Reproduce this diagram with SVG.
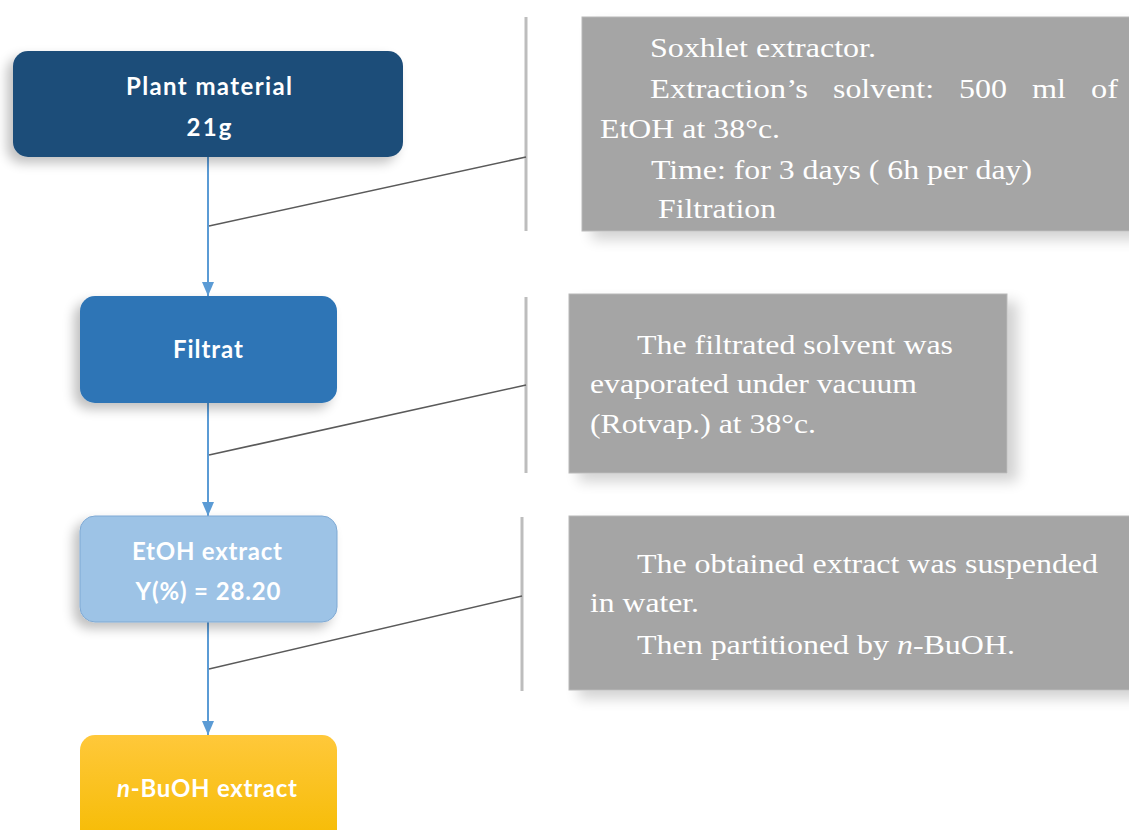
<svg xmlns="http://www.w3.org/2000/svg" width="1129" height="830" viewBox="0 0 1129 830">
<style>
.node text{font-family:Lato,"Liberation Sans",sans-serif;font-weight:bold;font-size:24px;fill:#ffffff;text-anchor:middle}
.note text{font-family:"Liberation Serif","DejaVu Serif",serif;font-size:28px;fill:#ffffff}
.note rect{fill:#a5a5a5;stroke:#b8b8b8;stroke-width:1}
.flow{stroke:#5b9bd5;stroke-width:2;fill:none}
.diag{stroke:#5a5a5a;stroke-width:1.6;fill:none}
.brace{stroke:#bdbdbd;stroke-width:3;fill:none}
</style>
<defs>
<marker id="arr" viewBox="0 0 14 12" refX="14" refY="6" markerWidth="14" markerHeight="12" markerUnits="userSpaceOnUse" orient="auto">
<path d="M0,0 L14,6 L0,12 Z" fill="#5b9bd5"/>
</marker>
<filter id="sh" x="-20%" y="-20%" width="140%" height="150%">
<feGaussianBlur in="SourceAlpha" stdDeviation="6"/>
<feOffset dx="-6" dy="6"/>
<feComponentTransfer><feFuncA type="linear" slope="0.25"/></feComponentTransfer>
<feMerge><feMergeNode/><feMergeNode in="SourceGraphic"/></feMerge>
</filter>
<filter id="sh2" x="-10%" y="-20%" width="130%" height="150%">
<feGaussianBlur in="SourceAlpha" stdDeviation="7"/>
<feOffset dx="10" dy="8"/>
<feComponentTransfer><feFuncA type="linear" slope="0.18"/></feComponentTransfer>
<feMerge><feMergeNode/><feMergeNode in="SourceGraphic"/></feMerge>
</filter>
<linearGradient id="gold" x1="0" y1="0" x2="0" y2="1">
<stop offset="0" stop-color="#ffc83a"/>
<stop offset="1" stop-color="#f5bb00"/>
</linearGradient>
</defs>
<rect width="1129" height="830" fill="#ffffff"/>

<g id="connectors">
<line class="flow" x1="208" y1="157" x2="208" y2="296" marker-end="url(#arr)"/>
<line class="flow" x1="208" y1="403" x2="208" y2="516" marker-end="url(#arr)"/>
<line class="flow" x1="208" y1="622" x2="208" y2="735" marker-end="url(#arr)"/>
<line class="brace" x1="526" y1="17" x2="526" y2="231"/>
<line class="brace" x1="526" y1="297" x2="526" y2="473"/>
<line class="brace" x1="522" y1="517" x2="522" y2="691"/>
<line class="diag" x1="209" y1="226" x2="526" y2="157"/>
<line class="diag" x1="209" y1="455" x2="526" y2="385"/>
<line class="diag" x1="209" y1="669" x2="522" y2="596"/>
</g>

<g id="plant-material" class="node">
<rect x="13" y="51" width="390" height="106" rx="15" fill="#1f4e79" filter="url(#sh)"/>
<text x="209" y="95" textLength="166" lengthAdjust="spacing">Plant material</text>
<text x="209" y="136" textLength="45" lengthAdjust="spacing">21g</text>
</g>

<g id="filtrat" class="node">
<rect x="80" y="296" width="257" height="107" rx="15" fill="#2e75b6" filter="url(#sh)"/>
<text x="208" y="358" textLength="70" lengthAdjust="spacing">Filtrat</text>
</g>

<g id="etoh-extract" class="node">
<rect x="80" y="516" width="257" height="106" rx="15" fill="#9dc3e6" stroke="#7fa9d3" stroke-width="1" filter="url(#sh)"/>
<text x="207" y="560" textLength="150" lengthAdjust="spacing">EtOH extract</text>
<text x="208" y="600" textLength="145" lengthAdjust="spacing">Y(%) = 28.20</text>
</g>

<g id="buoh-extract" class="node">
<rect x="80" y="735" width="257" height="115" rx="15" fill="url(#gold)"/>
<text x="207" y="797" textLength="180" lengthAdjust="spacing"><tspan font-style="italic">n</tspan>-BuOH extract</text>
</g>

<g id="note-extraction" class="note">
<rect x="582" y="17" width="560" height="214" filter="url(#sh2)"/>
<text x="650" y="57" textLength="226" lengthAdjust="spacingAndGlyphs">Soxhlet extractor.</text>
<text x="650" y="98" textLength="158" lengthAdjust="spacingAndGlyphs">Extraction’s</text>
<text x="833" y="98" textLength="101" lengthAdjust="spacingAndGlyphs">solvent:</text>
<text x="959" y="98" textLength="48" lengthAdjust="spacingAndGlyphs">500</text>
<text x="1032" y="98" textLength="34" lengthAdjust="spacingAndGlyphs">ml</text>
<text x="1091" y="98" textLength="27" lengthAdjust="spacingAndGlyphs">of</text>
<text x="600" y="138" textLength="180" lengthAdjust="spacingAndGlyphs">EtOH at 38°c.</text>
<text x="651" y="179" textLength="381" lengthAdjust="spacingAndGlyphs">Time: for 3 days ( 6h per day)</text>
<text x="658" y="218" textLength="118" lengthAdjust="spacingAndGlyphs">Filtration</text>
</g>

<g id="note-evaporation" class="note">
<rect x="569" y="294" width="438" height="179" filter="url(#sh2)"/>
<text x="637" y="354" textLength="316" lengthAdjust="spacingAndGlyphs">The filtrated solvent was</text>
<text x="590" y="393" textLength="327" lengthAdjust="spacingAndGlyphs">evaporated under vacuum</text>
<text x="590" y="433" textLength="226" lengthAdjust="spacingAndGlyphs">(Rotvap.) at 38°c.</text>
</g>

<g id="note-partition" class="note">
<rect x="569" y="516" width="575" height="174" filter="url(#sh2)"/>
<text x="637" y="573" textLength="461" lengthAdjust="spacingAndGlyphs">The obtained extract was suspended</text>
<text x="590" y="612" textLength="109" lengthAdjust="spacingAndGlyphs">in water.</text>
<text x="637" y="654" textLength="378" lengthAdjust="spacingAndGlyphs">Then partitioned by <tspan font-style="italic">n</tspan>-BuOH.</text>
</g>
</svg>
